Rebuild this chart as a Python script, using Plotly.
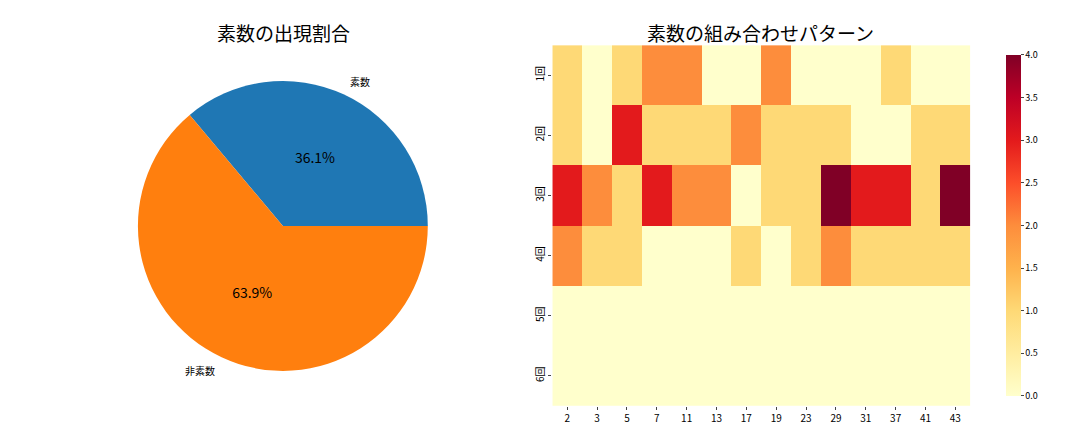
import plotly.graph_objects as go

pie_labels = ["素数", "非素数"]
pie_values = [13, 23]
rows = ["1回", "2回", "3回", "4回", "5回", "6回"]
cols = ["2", "3", "5", "7", "11", "13", "17", "19", "23", "29", "31", "37", "41", "43"]
z = [
    [1, 0, 1, 2, 2, 0, 0, 2, 0, 0, 0, 1, 0, 0],
    [1, 0, 3, 1, 1, 1, 2, 1, 1, 1, 0, 0, 1, 1],
    [3, 2, 1, 3, 2, 2, 0, 1, 1, 4, 3, 3, 1, 4],
    [2, 1, 1, 0, 0, 0, 1, 0, 1, 2, 1, 1, 1, 1],
    [0] * 14,
    [0] * 14,
]

F = "Noto Sans CJK JP"
fig = go.Figure()
fig.add_trace(go.Pie(
    labels=pie_labels, values=pie_values, sort=False, direction="clockwise",
    rotation=-40, marker=dict(colors=["#1f77b4", "#ff7f0e"]),
    textinfo="percent", texttemplate="%{percent:.1%}", textposition="inside",
    insidetextorientation="horizontal", textfont=dict(size=14, color="black", family=F),
    domain=dict(x=[0.12, 0.389], y=[0.16, 0.831]), showlegend=False))
fig.add_trace(go.Heatmap(
    z=z, x=cols, y=rows, colorscale="YlOrRd", zmin=0, zmax=4,
    colorbar=dict(x=0.915, xanchor="left", len=0.835, y=0.079, yanchor="bottom",
                  thickness=15, tickvals=[0, 0.5, 1, 1.5, 2, 2.5, 3, 3.5, 4],
                  ticktext=["0.0", "0.5", "1.0", "1.5", "2.0", "2.5", "3.0", "3.5", "4.0"],
                  tickfont=dict(size=9, family=F, color="black"), outlinewidth=0,
                  ticks="outside", ticklen=3)))
fig.update_layout(
    width=1080, height=432, margin=dict(l=0, r=0, t=0, b=0),
    paper_bgcolor="white", plot_bgcolor="white", font=dict(family=F, color="black"),
    xaxis=dict(domain=[0.504, 0.891], type="category", tickfont=dict(size=10),
               ticks="outside", ticklen=3, showgrid=False, automargin=False),
    yaxis=dict(domain=[0.079, 0.914], type="category", autorange="reversed",
               tickfont=dict(size=10), tickangle=-90, ticks="outside", ticklen=3,
               showgrid=False, automargin=False),
    annotations=[
        dict(text="素数の出現割合", x=0.255, y=1 - 25/432, xref="paper", yref="paper",
             xanchor="center", yanchor="middle", showarrow=False, font=dict(size=19)),
        dict(text="素数の組み合わせパターン", x=0.697, y=1 - 25/432, xref="paper", yref="paper",
             xanchor="center", yanchor="middle", showarrow=False, font=dict(size=19)),
        dict(text="素数", x=352/1080, y=1 - 73/432, xref="paper", yref="paper",
             xanchor="center", yanchor="middle", showarrow=False, font=dict(size=10)),
        dict(text="非素数", x=192/1080, y=1 - 362/432, xref="paper", yref="paper",
             xanchor="center", yanchor="middle", showarrow=False, font=dict(size=10)),
    ],
)
fig.write_html("out.html")
